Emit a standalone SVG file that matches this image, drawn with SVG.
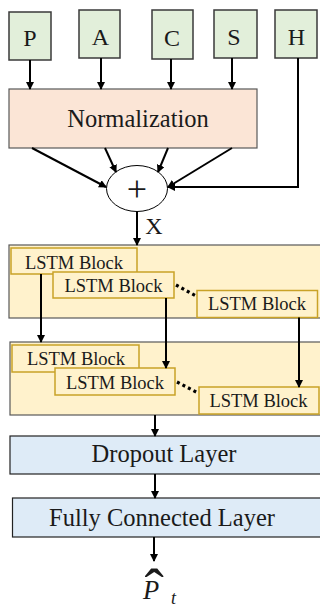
<svg xmlns="http://www.w3.org/2000/svg" width="320" height="604" viewBox="0 0 320 604">
<defs>
<marker id="ah" markerUnits="userSpaceOnUse" markerWidth="8" markerHeight="9" refX="7" refY="4" orient="auto">
<path d="M0,0 L8,4 L0,8 Z" fill="#000"/>
</marker>
<style>
text{font-family:'Liberation Serif','Times New Roman',serif;fill:#1a1a1a;text-anchor:middle}
.in{font-size:24px}
.big{font-size:24.5px}
.lstm{font-size:18.5px}
.inp{fill:#E2EFDA;stroke:#3a3a3a;stroke-width:1.5}
.cont{fill:#FFF2CC;stroke:#595959;stroke-width:1.2}
.blk{fill:#FFF2CC;stroke:#C9A227;stroke-width:1.5}
.blue{fill:#DEEBF7;stroke:#222;stroke-width:1.2}
.ar{stroke:#000;stroke-width:2;fill:none;marker-end:url(#ah)}
.dot{stroke:#000;stroke-width:3.2;stroke-dasharray:3 3.2;fill:none}
</style>
</defs>
<g id="node-P"><rect class="inp" x="9" y="12" width="42" height="48"/><text class="in" x="30" y="46">P</text></g>
<g id="node-A"><rect class="inp" x="79" y="10" width="41" height="48"/><text class="in" x="100.5" y="45">A</text></g>
<g id="node-C"><rect class="inp" x="152" y="10" width="41" height="49"/><text class="in" x="172" y="45.5">C</text></g>
<g id="node-S"><rect class="inp" x="214" y="10" width="43" height="48"/><text class="in" x="234" y="45">S</text></g>
<g id="node-H"><rect class="inp" x="275" y="10" width="42" height="48"/><text class="in" x="296.5" y="45">H</text></g>

<g id="node-norm"><rect x="9" y="89" width="248" height="59" fill="#FBE5D6" stroke="#595959" stroke-width="1.2"/><text class="big" x="138" y="127">Normalization</text></g>

<g id="node-sum"><ellipse cx="137" cy="188.5" rx="30.5" ry="23" fill="#fff" stroke="#000" stroke-width="1"/><text x="137" y="201" font-size="36">+</text></g>

<g id="node-lstm1"><rect class="cont" x="9" y="245" width="320" height="73"/>
<rect class="blk" x="11" y="248" width="126" height="26"/><text class="lstm" x="74" y="269">LSTM Block</text>
<rect class="blk" x="53" y="272" width="121" height="26"/><text class="lstm" x="113.5" y="291.5">LSTM Block</text>
<rect class="blk" x="197" y="290.5" width="120.5" height="27"/><text class="lstm" x="257" y="310">LSTM Block</text></g>

<g id="node-lstm2"><rect class="cont" x="10" y="342" width="320" height="73"/>
<rect class="blk" x="12" y="345" width="127" height="27"/><text class="lstm" x="76" y="365">LSTM Block</text>
<rect class="blk" x="55" y="368" width="120" height="27"/><text class="lstm" x="115" y="389">LSTM Block</text>
<rect class="blk" x="199" y="387" width="120" height="27"/><text class="lstm" x="258.5" y="406.5">LSTM Block</text></g>

<g id="node-dropout"><rect class="blue" x="10" y="436" width="320" height="38"/><text class="big" x="164" y="462">Dropout Layer</text></g>
<g id="node-fc"><rect class="blue" x="12.5" y="498" width="320" height="39"/><text class="big" x="162" y="526">Fully Connected Layer</text></g>

<g id="node-out"><text x="143" y="599" font-size="26.5" font-style="italic" style="text-anchor:start">P<tspan x="171" y="604" font-size="18">t</tspan><tspan x="144.6" y="608" font-size="58" font-style="normal">ˆ</tspan></text></g>

<g id="connectors">
<path class="ar" d="M30,60 V89"/>
<path class="ar" d="M101,58 V89"/>
<path class="ar" d="M171,59 V89"/>
<path class="ar" d="M232,58 V89"/>
<path class="ar" d="M32,148 L106,187"/>
<path class="ar" d="M105,148 L116,172"/>
<path class="ar" d="M168,148 L158,172"/>
<path class="ar" d="M232,148 L168,187"/>
<path class="ar" d="M298,58 V187 H168"/>
<path class="ar" d="M137,211.5 V245"/>
<text class="in" x="154" y="234">X</text>
<path class="ar" d="M41,274 V342"/>
<path class="ar" d="M166,298 V368"/>
<path class="ar" d="M299,317.5 V387"/>
<path class="dot" d="M176,285 L196,296"/>
<path class="dot" d="M177,382 L198,393"/>
<path class="ar" d="M155,415 V436"/>
<path class="ar" d="M155,474 V498"/>
<path class="ar" d="M154,537 V561"/>
</g>
</svg>
